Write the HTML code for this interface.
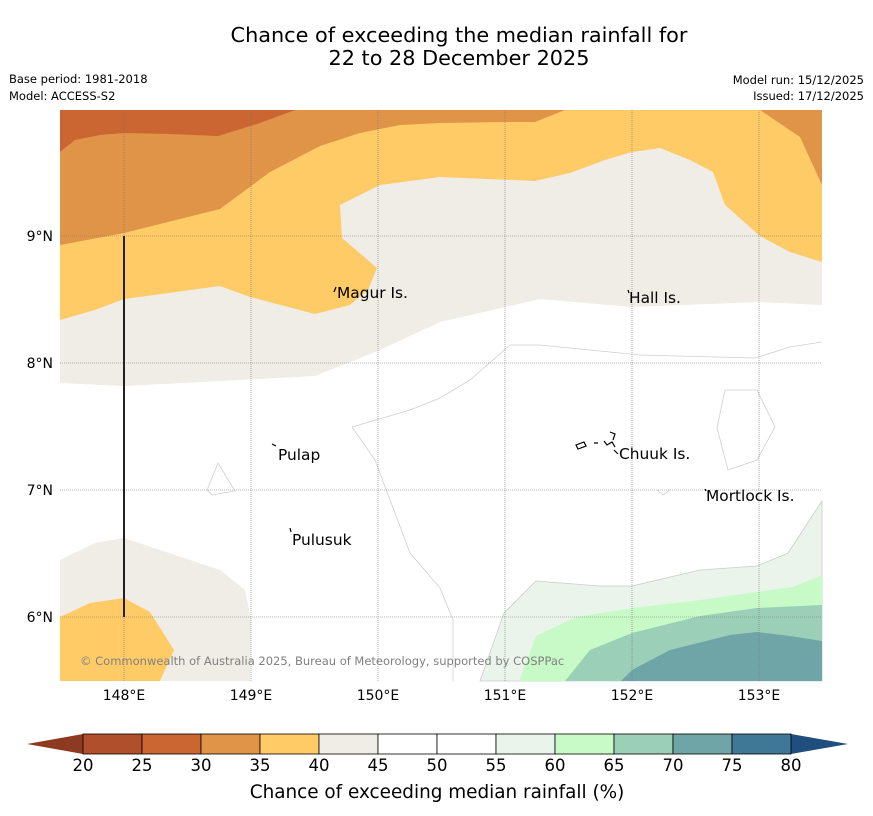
<!DOCTYPE html>
<html><head><meta charset="utf-8"><style>
body{margin:0;background:#fff;font-family:"Liberation Sans","DejaVu Sans",sans-serif}
svg{display:block}
</style></head><body>
<svg id="root" width="873" height="816" xmlns="http://www.w3.org/2000/svg" font-family="DejaVu Sans, Liberation Sans, sans-serif">
<text x="459" y="42" font-size="20.8" text-anchor="middle">Chance of exceeding the median rainfall for</text>
<text x="459" y="65" font-size="20.8" text-anchor="middle">22 to 28 December 2025</text>
<text x="9" y="83" font-size="11.5">Base period: 1981-2018</text>
<text x="9" y="100" font-size="11.5">Model: ACCESS-S2</text>
<text x="864" y="84" font-size="11.5" text-anchor="end">Model run: 15/12/2025</text>
<text x="864" y="100" font-size="11.5" text-anchor="end">Issued: 17/12/2025</text>
<g id="map">
<rect x="60" y="110" width="762" height="571" fill="#fff"/>
<polygon fill="#f0ece6" points="60,110 822,110 822,305 760,302 632,307 540,299 440,322 380,350 315,376 220,381 124,386 60,383"/>
<polygon fill="#fecb67" points="60,320 95,310 124,299 220,286 250,297 315,314 350,305 368,290 377,268 342,238 340,205 380,185 440,177 535,181 570,173 605,160 632,152 660,148 690,160 713,172 725,205 760,236 790,252 822,262 822,110 60,110"/>
<polygon fill="#e09448" points="60,245 124,233 220,209 270,172 320,146 360,133 400,125 440,123 505,122 535,122 565,110 60,110"/>
<polygon fill="#e09448" points="760,110 800,137 822,185 822,110"/>
<polygon fill="#cb6531" points="60,152 75,140 100,135 124,133 170,134 218,136 260,123 295,110 60,110"/>
<polygon fill="#f0ece6" points="60,560 95,543 124,538 160,550 220,570 245,590 251,620 250,681 60,681"/>
<polygon fill="#fecb67" points="60,617 90,603 124,598 150,612 174,650 160,681 60,681"/>
<polygon fill="#eaf4ea" stroke="#ccc" stroke-width="0.8" points="480,681 504,613 536,581 600,586 632,586 700,570 757,566 788,553 822,501 822,681"/>
<polygon fill="#c8fac8" points="519,681 536,636 576,617 632,608 700,600 757,592 793,587 822,575 822,681"/>
<polygon fill="#9ccfb7" points="565,681 590,650 632,633 700,616 757,608 822,605 822,681"/>
<polygon fill="#6fa5a7" points="621,681 632,670 670,650 730,635 757,632 790,636 822,641 822,681"/>
<g fill="none" stroke="#d0d0d0" stroke-width="0.8">
<polyline points="352,427 410,410 440,398 470,380 510,345 540,345 640,355 755,358 790,347 822,342"/>
<polyline points="352,427 375,460 410,553 440,588 453,620 453,681"/>
<polygon points="725,390 757,390 775,427 757,460 728,470 717,428"/>
<polygon points="218,463 235,491 212,495 207,490"/>
<polyline points="657,490 663,495 670,490"/>
</g>
<g id="grid" stroke="#777" stroke-width="0.6" stroke-dasharray="1,1"></g>
<line x1="124" y1="236" x2="124" y2="617" stroke="#222" stroke-width="2"/>
<g font-size="15.4">
<text x="337" y="298">Magur Is.</text>
<text x="629" y="303">Hall Is.</text>
<text x="278" y="460">Pulap</text>
<text x="619" y="459">Chuuk Is.</text>
<text x="706" y="501">Mortlock Is.</text>
<text x="292" y="545">Pulusuk</text>
</g>
<g stroke="#000" stroke-width="1.2" fill="none">
<path d="M334,292 l2,-5"/><path d="M272,444 l4,2"/><path d="M290,528 l1,4"/><path d="M628,290 l1,3"/>
<path d="M576,445 l8,-3 l2,4 l-8,3z M594,443 l4,0 M604,441 l3,4 l5,-3 l3,5 M610,432 l5,2 l-2,6 M614,450 l4,4"/>
<path d="M705,489 l1,2"/>
</g>
<text x="80" y="665" font-size="11.5" fill="#808080">© Commonwealth of Australia 2025, Bureau of Meteorology, supported by COSPPac</text>
</g>
<g id="axes" font-size="14"></g>
<g id="cbar"></g>
<text x="437" y="798" font-size="18.4" text-anchor="middle">Chance of exceeding median rainfall (%)</text>
</svg>
<script>
const lonTicks=[148,149,150,151,152,153];
const latTicks=[9,8,7,6];
const levels=[20,25,30,35,40,45,50,55,60,65,70,75,80];
const levelColors=["#b04f2b","#cb6531","#e09448","#fecb67","#f0ece6","#ffffff","#ffffff","#eaf4ea","#c8fac8","#9ccfb7","#6fa5a7","#3f7896"];
const NS="http://www.w3.org/2000/svg";
const xLon=l=>124+(l-148)*127;
const yLat=l=>617-(l-6)*127;
const cx=v=>83+(v-20)*(708/60);
function mk(tag,attrs,parent){const e=document.createElementNS(NS,tag);for(const k in attrs)e.setAttribute(k,attrs[k]);parent.appendChild(e);return e;}
const grid=document.getElementById('grid'),axes=document.getElementById('axes'),cbar=document.getElementById('cbar');
lonTicks.forEach(l=>{
 const ln=mk('line',{x1:xLon(l),x2:xLon(l),y1:110,y2:681},grid);
 
 
 const t=mk('text',{x:xLon(l),y:700,'text-anchor':'middle'},axes);t.textContent=l+'°E';
 
 
});
latTicks.forEach(l=>{
 const ln=mk('line',{x1:60,x2:822,y1:yLat(l),y2:yLat(l)},grid);
 
 
 const t=mk('text',{x:53,y:yLat(l)+5,'text-anchor':'end'},axes);t.textContent=l+'°N';
 
 
});
const lo=mk('polygon',{points:`27,744 ${cx(20)},734 ${cx(20)},754`,fill:'#8e3a22'},cbar);


const hi=mk('polygon',{points:`848,744 ${cx(80)},734 ${cx(80)},754`,fill:'#1f4e7f'},cbar);


levelColors.forEach((c,i)=>{
 const r=mk('rect',{x:cx(levels[i]),y:734,width:cx(levels[i+1])-cx(levels[i]),height:20,fill:c,stroke:'#000','stroke-width':0.8},cbar);
 
 
});
levels.forEach(v=>{
 const t=mk('text',{x:cx(v),y:771,'text-anchor':'middle','font-size':16.5},cbar);t.textContent=v;
 
 
});
</script>
</body></html>
